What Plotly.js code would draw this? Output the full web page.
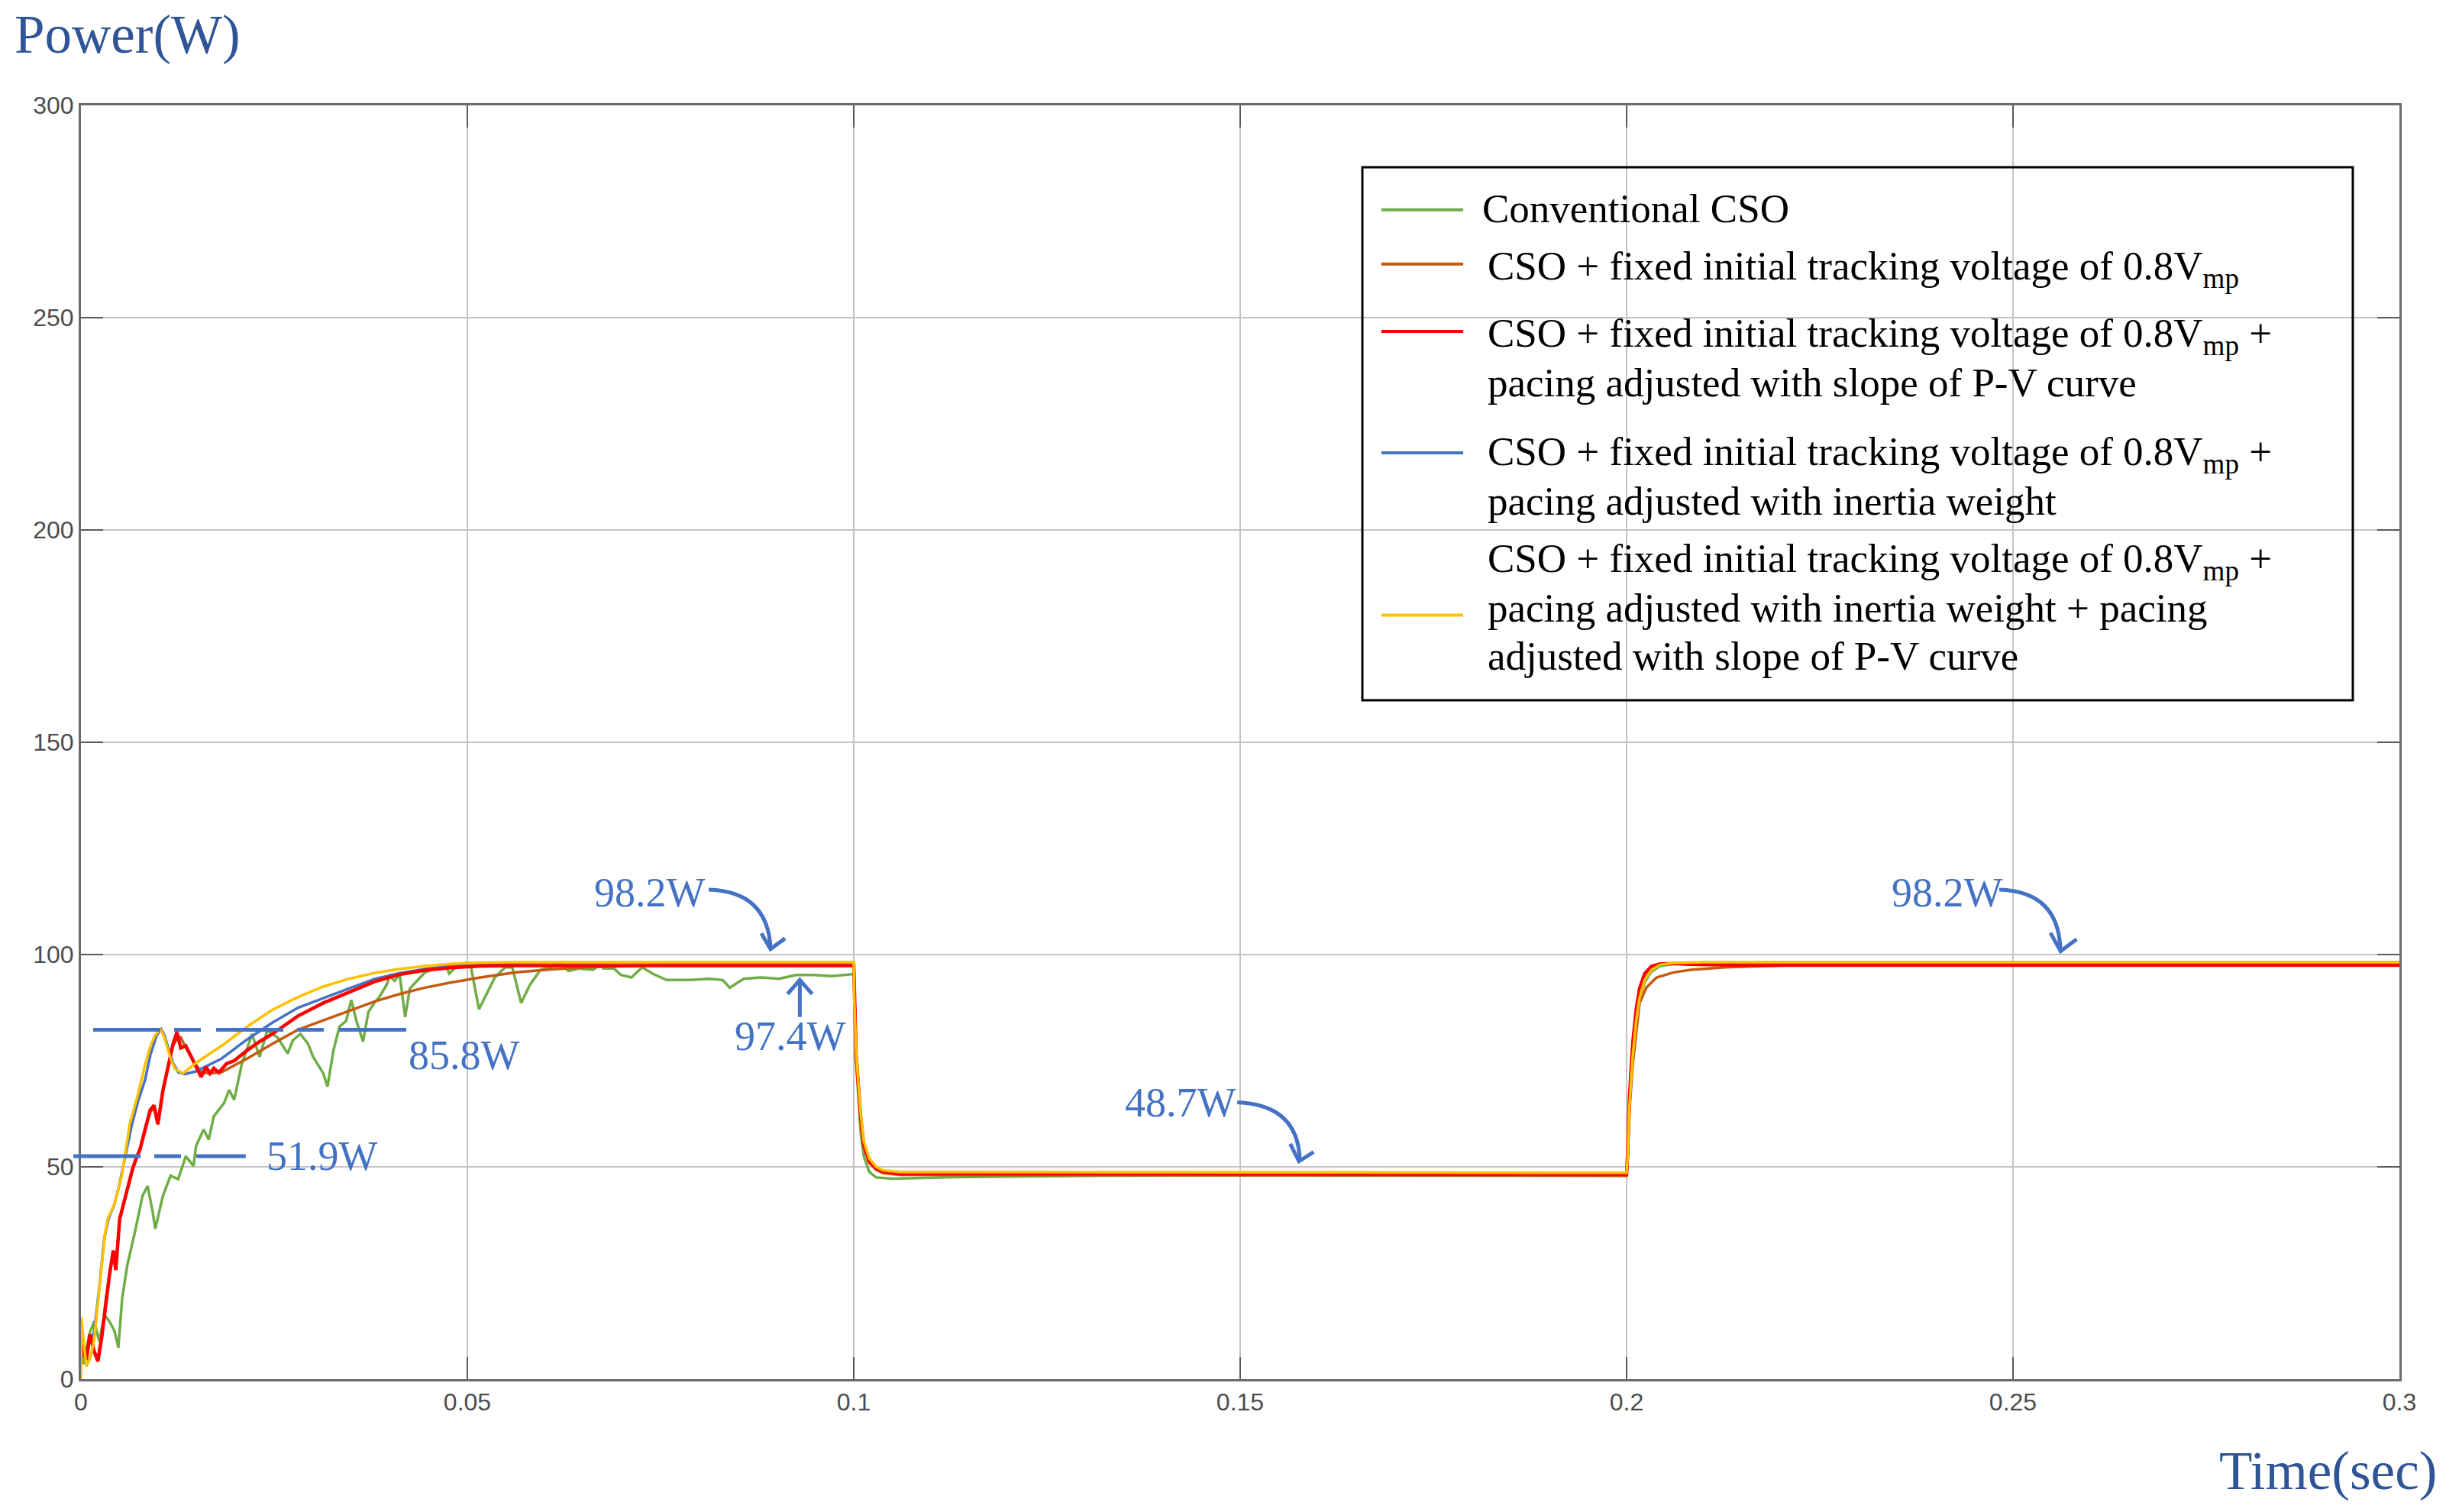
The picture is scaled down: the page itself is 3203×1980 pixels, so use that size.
<!DOCTYPE html>
<html>
<head>
<meta charset="utf-8">
<script src="https://cdn.plot.ly/plotly-3.0.1.min.js"></script>
<style>
  html, body { margin: 0; padding: 0; background: #ffffff; }
  #chart { width: 3203px; height: 1980px; }
</style>
</head>
<body>
<div id="chart"></div>
<script>
// Power vs time for the five tracking methods

const tConventional = [0, 0.0004, 0.00106, 0.00171, 0.00237, 0.00303, 0.00369, 0.00435, 0.00484, 0.00534, 0.00599, 0.00698, 0.00797, 0.00863, 0.00929, 0.00962, 0.01061, 0.01159, 0.01258, 0.01357, 0.01456, 0.01489, 0.01588, 0.01654, 0.01719, 0.01851, 0.01917, 0.01983, 0.02082, 0.02213, 0.02312, 0.02411, 0.02543, 0.02675, 0.02741, 0.02839, 0.02938, 0.03004, 0.03136, 0.0319, 0.03267, 0.03345, 0.03432, 0.03498, 0.03564, 0.0365, 0.0372, 0.0379, 0.03861, 0.03959, 0.03994, 0.04058, 0.04124, 0.04195, 0.04256, 0.04387, 0.04452, 0.04539, 0.0472, 0.04765, 0.049, 0.05037, 0.0515, 0.05355, 0.0549, 0.05581, 0.05696, 0.05808, 0.05945, 0.06081, 0.06218, 0.06308, 0.06444, 0.06626, 0.06717, 0.06762, 0.06897, 0.06988, 0.07124, 0.07261, 0.07396, 0.07578, 0.07896, 0.08123, 0.08304, 0.08395, 0.08576, 0.08803, 0.0903, 0.09257, 0.09483, 0.0971, 0.0998, 0.1, 0.1003, 0.1006, 0.1009, 0.1013, 0.102, 0.1029, 0.105, 0.107, 0.114, 0.13, 0.16, 0.2, 0.20013, 0.20036, 0.20079, 0.20124, 0.20168, 0.20234, 0.20322, 0.20433, 0.206, 0.21, 0.3];
const pConventional = [5.8, 3.5, 10.5, 13.6, 8.9, 15.2, 13.6, 11.3, 7.4, 19.1, 26.8, 34.6, 43.2, 45.5, 39.3, 35.4, 43.2, 47.9, 47.1, 52.5, 50.2, 54.9, 58.8, 56.4, 61.9, 65.0, 68.1, 65.8, 74.3, 81.3, 75.9, 82.1, 80.5, 76.7, 79.8, 81.3, 79.0, 75.9, 72.0, 68.9, 77.4, 83.0, 84.4, 89.3, 84.4, 79.5, 86.5, 88.5, 90.0, 93.0, 95.0, 93.8, 95.3, 85.3, 92.0, 94.5, 95.8, 96.4, 97.6, 95.5, 97.9, 98.0, 87.1, 94.6, 97.0, 97.0, 88.6, 92.8, 96.4, 97.0, 97.9, 96.1, 96.7, 96.4, 97.6, 96.7, 96.7, 95.2, 94.6, 97.0, 95.5, 94.0, 94.0, 94.3, 94.0, 92.2, 94.3, 94.6, 94.3, 95.2, 95.2, 94.9, 95.4, 95.4, 75, 66, 58, 52.5, 48.8, 47.5, 47.2, 47.3, 47.6, 47.9, 48.1, 48.1, 52, 64, 76, 84, 89.5, 93.5, 96, 97.3, 97.8, 98.0, 98.0];

const tFixed = [0, 0.0007, 0.0012, 0.0017, 0.0022, 0.0027, 0.0032, 0.0037, 0.0042, 0.0045, 0.005, 0.0057, 0.0062, 0.0067, 0.0072, 0.0076, 0.0083, 0.009, 0.0095, 0.01, 0.0106, 0.0113, 0.0119, 0.0124, 0.0129, 0.0136, 0.0142, 0.0149, 0.0155, 0.0165, 0.0182, 0.0215, 0.0248, 0.0281, 0.0314, 0.0347, 0.0381, 0.0412, 0.0445, 0.0478, 0.0517, 0.0563, 0.0608, 0.0654, 0.0699, 0.0744, 0.08, 0.1, 0.1003, 0.1006, 0.1009, 0.1013, 0.102, 0.1029, 0.1038, 0.106, 0.2, 0.20013, 0.20036, 0.20079, 0.20124, 0.20168, 0.20256, 0.20388, 0.20609, 0.20829, 0.21271, 0.21712, 0.22153, 0.3];
const pFixed = [8, 4.5, 10, 6.5, 5, 10.5, 18.5, 25, 30, 26, 37.5, 42.5, 46, 49.5, 52, 54, 59, 63, 64, 61, 68, 73.5, 78.5, 80, 80.5, 78, 76, 74, 72.5, 72, 72.3, 75.5, 79, 82.3, 84.5, 86.8, 89, 90.7, 92.2, 93.4, 94.6, 95.8, 96.5, 97, 97.3, 97.5, 97.6, 97.6, 76, 68, 61, 55, 51, 49.3, 48.5, 48.1, 47.9, 52, 63, 74, 82, 88.6, 92.2, 94.6, 95.8, 96.4, 97.0, 97.3, 97.5, 97.5];

const tSlope = [0, 0.00018, 0.00068, 0.00117, 0.00171, 0.0022, 0.0027, 0.00319, 0.00369, 0.00418, 0.00451, 0.00501, 0.00567, 0.00616, 0.00666, 0.00715, 0.00764, 0.0083, 0.00896, 0.00945, 0.00995, 0.01061, 0.01126, 0.01192, 0.01242, 0.01291, 0.01357, 0.01423, 0.01489, 0.01555, 0.01621, 0.0167, 0.01719, 0.01785, 0.01884, 0.01983, 0.02148, 0.02312, 0.02477, 0.02642, 0.02806, 0.03136, 0.03465, 0.03794, 0.04124, 0.04453, 0.04783, 0.05174, 0.056, 0.1, 0.1003, 0.1006, 0.1009, 0.1013, 0.102, 0.1029, 0.1038, 0.106, 0.2, 0.20013, 0.20036, 0.20079, 0.20124, 0.20168, 0.20234, 0.20322, 0.20433, 0.206, 0.208, 0.215, 0.3];
const pSlope = [9, 8, 4.5, 10.5, 6.5, 4.2, 10, 18, 24.5, 30.3, 25.7, 37.7, 42.4, 46, 49.4, 52, 54.1, 58.8, 63.4, 64.5, 60, 68, 73.5, 79, 81.7, 78, 78.5, 76, 73.5, 71.2, 73.5, 72, 73.2, 72.2, 74.3, 75, 77.4, 79.5, 81.3, 83.3, 85.5, 88.6, 91.2, 93.6, 95.3, 96.3, 96.9, 97.3, 97.4, 97.4, 76.5, 68.5, 61.5, 55, 51.2, 49.6, 48.9, 48.4, 48.2, 53, 66, 79, 87, 92, 95.5, 97.2, 97.8, 97.9, 97.7, 97.5, 97.5];

const tInertia = [0, 0.0004, 0.0009, 0.0017, 0.0024, 0.003, 0.0036, 0.0043, 0.005, 0.0058, 0.0066, 0.0074, 0.0083, 0.009, 0.0098, 0.0104, 0.0108, 0.0113, 0.0119, 0.0126, 0.0134, 0.0149, 0.0182, 0.0215, 0.0248, 0.0281, 0.0314, 0.0347, 0.0381, 0.0412, 0.0445, 0.0478, 0.052, 0.056, 0.06, 0.1, 0.1003, 0.1006, 0.1009, 0.1013, 0.102, 0.1029, 0.1038, 0.106, 0.2, 0.20013, 0.20036, 0.20079, 0.20124, 0.20168, 0.20234, 0.20322, 0.20433, 0.206, 0.21, 0.3];
const pInertia = [11, 5, 8, 11, 22, 33, 38, 41, 46, 53, 60, 65.5, 70.5, 76.5, 81, 82.4, 81, 78, 74.5, 72.3, 71.8, 72.5, 75.5, 80, 84, 87.5, 89.8, 92, 94.3, 95.6, 96.6, 97.3, 97.8, 98, 98.1, 98.1, 77, 69, 62, 55.5, 51.5, 49.8, 49, 48.6, 48.4, 52.5, 64.5, 76.5, 85, 90, 94.2, 96.5, 97.6, 97.9, 98.1, 98.1];

const tBoth = [0, 0.00005, 0.0004, 0.0007, 0.0012, 0.0017, 0.0022, 0.0027, 0.0031, 0.0035, 0.0043, 0.0053, 0.0063, 0.0073, 0.0083, 0.009, 0.0096, 0.0103, 0.0108, 0.0112, 0.0117, 0.0122, 0.0132, 0.0149, 0.0182, 0.0215, 0.0248, 0.0281, 0.0314, 0.0347, 0.0381, 0.0412, 0.0445, 0.0478, 0.052, 0.056, 0.1, 0.10005, 0.1003, 0.1006, 0.1009, 0.1013, 0.102, 0.1029, 0.1038, 0.106, 0.2, 0.20013, 0.20036, 0.20079, 0.20124, 0.20168, 0.20234, 0.20322, 0.20433, 0.206, 0.21, 0.3];
const pBoth = [0, 14.6, 8, 3, 5, 9, 18, 27, 34, 38, 41, 48, 60, 66.5, 74, 78.5, 81, 82.4, 80.5, 78, 75, 73, 72, 74.5, 78.5, 83, 87, 90, 92.5, 94.3, 95.7, 96.6, 97.3, 97.8, 98.1, 98.2, 98.2, 90, 77.5, 69.5, 62.5, 56, 52, 50, 49.2, 48.8, 48.6, 52, 64, 76, 84.4, 89.8, 94, 96.4, 97.6, 98, 98.2, 98.2];

const seriesNames = [
  'Conventional CSO',
  'CSO + fixed initial tracking voltage of 0.8V<sub>mp</sub>',
  'CSO + fixed initial tracking voltage of 0.8V<sub>mp</sub> + pacing adjusted with slope of P-V curve',
  'CSO + fixed initial tracking voltage of 0.8V<sub>mp</sub> + pacing adjusted with inertia weight',
  'CSO + fixed initial tracking voltage of 0.8V<sub>mp</sub> + pacing adjusted with inertia weight + pacing adjusted with slope of P-V curve',
];

// legend text, wrapped the way the figure wraps it
const legendText = [
  ['Conventional CSO'],
  ['CSO + fixed initial tracking voltage of 0.8V<sub>mp</sub>'],
  ['CSO + fixed initial tracking voltage of 0.8V<sub>mp</sub> +', 'pacing adjusted with slope of P-V curve'],
  ['CSO + fixed initial tracking voltage of 0.8V<sub>mp</sub> +', 'pacing adjusted with inertia weight'],
  ['CSO + fixed initial tracking voltage of 0.8V<sub>mp</sub> +', 'pacing adjusted with inertia weight + pacing', 'adjusted with slope of P-V curve'],
];

const valueLabels = ['98.2W', '97.4W', '85.8W', '51.9W', '48.7W', '98.2W'];

const colors = ['#70AD47', '#C55A11', '#FF0000', '#4472C4', '#FFC000'];
const widths = [3.5, 3.5, 4.5, 3.5, 3.5];
const serif = 'Liberation Serif, Times New Roman, serif';
const blue = '#4472C4';

const xs = [tConventional, tFixed, tSlope, tInertia, tBoth];
const ys = [pConventional, pFixed, pSlope, pInertia, pBoth];
// drawing order: green, brown, blue, red, yellow on top
const order = [0, 1, 3, 2, 4];

const traces = order.map(i => ({
  x: xs[i],
  y: ys[i],
  name: seriesNames[i],
  type: 'scatter',
  mode: 'lines',
  line: { color: colors[i], width: widths[i] },
  showlegend: false,
}));

// custom boxed legend, drawn in paper coordinates
const legendBox = { x0: 0.5527, x1: 0.9799, y0: 0.5330, y1: 0.9514 };
const sampleY = [0.9180, 0.8754, 0.8225, 0.7272, 0.5998];
const firstLineY = [0.9193, 0.8734, 0.8205, 0.7278, 0.6441];
const lineStep = 0.0383;
const subShift = 0.0018; // lines with a subscript sit a little lower
const textX = [0.6037, 0.6061, 0.6061, 0.6061, 0.6061];

const shapes = [
  {
    type: 'rect', xref: 'paper', yref: 'paper',
    x0: legendBox.x0, x1: legendBox.x1, y0: legendBox.y0, y1: legendBox.y1,
    line: { color: '#000000', width: 3 }, fillcolor: 'rgba(0,0,0,0)',
  },
];
sampleY.forEach((y, i) => {
  shapes.push({
    type: 'line', xref: 'paper', yref: 'paper',
    x0: 0.5609, x1: 0.5962, y0: y, y1: y,
    line: { color: colors[i], width: 4 },
  });
});

// dashed marker lines
shapes.push({
  type: 'line', xref: 'x', yref: 'y', x0: 0.00158, x1: 0.0421, y0: 82.3, y1: 82.3,
  line: { color: blue, width: 5, dash: '88px,18px,35px,20px' },
});
shapes.push({
  type: 'line', xref: 'paper', yref: 'y', x0: -0.0033, x1: 0.0711, y0: 52.5, y1: 52.5,
  line: { color: blue, width: 5, dash: '88px,18px,35px,20px' },
});

// curved pointer arrows
const arrow = (path) => ({ type: 'path', xref: 'x', yref: 'y', path, line: { color: blue, width: 5 } });
shapes.push(arrow('M0.08123,115.3 Q0.08883,114.9 0.08923,101.6'));
shapes.push(arrow('M0.08804,105.0 L0.08923,101.3 L0.09111,103.8'));
shapes.push(arrow('M0.09302,85.3 L0.09302,94.0'));
shapes.push(arrow('M0.09143,90.7 L0.09302,94.0 L0.09461,90.7'));
shapes.push(arrow('M0.14962,65.2 Q0.15751,64.6 0.15771,51.6'));
shapes.push(arrow('M0.15648,55.4 L0.15760,51.3 L0.15950,53.5'));
shapes.push(arrow('M0.24822,115.3 Q0.25583,114.9 0.25613,101.4'));
shapes.push(arrow('M0.25484,105.1 L0.25616,100.8 L0.25823,103.6'));

const annotations = [
  {
    xref: 'paper', yref: 'paper', x: -0.0293, y: 1.0555, xanchor: 'left', yanchor: 'middle',
    text: 'Power(W)', showarrow: false, font: { family: serif, size: 71, color: '#2F5597' },
  },
  {
    xref: 'paper', yref: 'paper', x: 1.0168, y: -0.0725, xanchor: 'right', yanchor: 'middle',
    text: 'Time(sec)', showarrow: false, font: { family: serif, size: 71, color: '#2F5597' },
  },
];

const labelPos = [
  [0.0662, 114.6], [0.0844, 80.7], [0.0422, 76.2], [0.0238, 52.5], [0.1349, 65.1], [0.2341, 114.6],
];
valueLabels.forEach((txt, i) => {
  annotations.push({
    xref: 'x', yref: 'y', x: labelPos[i][0], y: labelPos[i][1], xanchor: 'left', yanchor: 'middle',
    text: txt, showarrow: false, font: { family: serif, size: 54, color: blue },
  });
});

legendText.forEach((lines, i) => {
  lines.forEach((txt, j) => {
    const y = firstLineY[i] - j * lineStep - (txt.includes('<sub>') ? subShift : 0);
    annotations.push({
      xref: 'paper', yref: 'paper', x: textX[i], y,
      xanchor: 'left', yanchor: 'middle', align: 'left',
      text: txt, showarrow: false, font: { family: serif, size: 53, color: '#000000' },
    });
  });
});

const axisStyle = {
  showgrid: true,
  gridcolor: '#c4c4c4',
  gridwidth: 2,
  zeroline: false,
  showline: true,
  linecolor: '#6b6b6b',
  linewidth: 3,
  mirror: 'ticks',
  ticks: 'inside',
  ticklen: 29,
  tickwidth: 2,
  tickcolor: '#5a5a5a',
  tickfont: { family: 'Liberation Sans, Arial, sans-serif', size: 32, color: '#4d4d4d' },
};

Plotly.newPlot('chart', traces, {
  width: 3203,
  height: 1980,
  margin: { l: 106, r: 61, t: 138, b: 174 },
  paper_bgcolor: '#ffffff',
  plot_bgcolor: '#ffffff',
  showlegend: false,
  xaxis: Object.assign({}, axisStyle, { range: [0, 0.3], dtick: 0.05, tick0: 0 }),
  yaxis: Object.assign({}, axisStyle, { range: [0, 300], dtick: 50, tick0: 0 }),
  shapes,
  annotations,
}, { displayModeBar: false, staticPlot: true });
</script>
</body>
</html>
